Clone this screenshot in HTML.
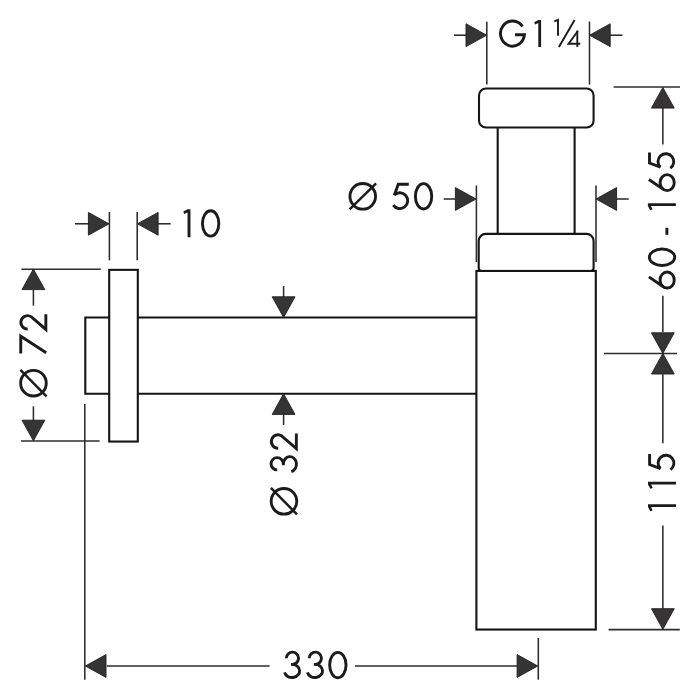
<!DOCTYPE html>
<html><head><meta charset="utf-8"><title>Drawing</title>
<style>html,body{margin:0;padding:0;background:#fff;}svg{display:block;}</style>
</head><body>
<svg width="700" height="700" viewBox="0 0 700 700">
<rect width="700" height="700" fill="#ffffff"/>
<g fill="none" stroke="#161414" stroke-width="2.1" stroke-linejoin="miter"><rect x="479" y="88.5" width="114.6" height="39" rx="7" ry="7"/><line x1="497.7" y1="127.5" x2="497.7" y2="233.85"/><line x1="574.6" y1="127.5" x2="574.6" y2="233.85"/><path d="M481.7,270.95 A3,3 0 0 1 478.7,267.95 V240.85 A7,7 0 0 1 485.7,233.85 H586.6 A7,7 0 0 1 593.6,240.85 V267.95 A3,3 0 0 1 590.6,270.95"/><rect x="476.4" y="270.95" width="119.4" height="358.6"/><line x1="137.8" y1="317.5" x2="476.4" y2="317.5"/><line x1="137.8" y1="393.8" x2="476.4" y2="393.8"/><rect x="109.2" y="269.85" width="28.6" height="171.7"/><path d="M109.2,317.5 H85.3 V393.8 H109.2"/></g><g fill="none" stroke="#2e2c2d" stroke-width="1.55"><line x1="454" y1="35.2" x2="466" y2="35.2"/><line x1="610" y1="35.2" x2="622.4" y2="35.2"/><line x1="486.8" y1="21.8" x2="486.8" y2="84.6"/><line x1="589.5" y1="21.5" x2="589.5" y2="84.6"/><line x1="613.6" y1="87" x2="680" y2="87"/><line x1="662.85" y1="107.8" x2="662.85" y2="144.4"/><line x1="662.85" y1="295.7" x2="662.85" y2="332.1"/><line x1="604" y1="353.4" x2="677" y2="353.4"/><line x1="662.85" y1="374.3" x2="662.85" y2="443.2"/><line x1="662.85" y1="525.5" x2="662.85" y2="608.5"/><line x1="608.6" y1="629.6" x2="679.8" y2="629.6"/><line x1="443.7" y1="199" x2="455.3" y2="199"/><line x1="616.8" y1="199" x2="628.7" y2="199"/><line x1="476.4" y1="185.5" x2="476.4" y2="262"/><line x1="596" y1="185.5" x2="596" y2="262"/><line x1="75" y1="223.8" x2="89" y2="223.8"/><line x1="158" y1="223.8" x2="170.6" y2="223.8"/><line x1="109.4" y1="212" x2="109.4" y2="260.3"/><line x1="137.2" y1="212" x2="137.2" y2="260.3"/><line x1="21.4" y1="269.2" x2="100.8" y2="269.2"/><line x1="21" y1="441" x2="99.6" y2="441"/><line x1="33.4" y1="290" x2="33.4" y2="305.7"/><line x1="33.4" y1="406.3" x2="33.4" y2="421"/><line x1="283.6" y1="286" x2="283.6" y2="298"/><line x1="283.6" y1="413.4" x2="283.6" y2="425"/><line x1="84.8" y1="404" x2="84.8" y2="679.7"/><line x1="538.3" y1="638" x2="538.3" y2="679.7"/><line x1="106.8" y1="666" x2="269.6" y2="666"/><line x1="355" y1="666" x2="517.1" y2="666"/></g><polygon points="486.60,35.20 466.00,23.80 466.00,46.60" fill="#363435" stroke="#1e1e1e" stroke-width="0.9" stroke-linejoin="miter"/><polygon points="589.60,35.20 610.20,23.80 610.20,46.60" fill="#363435" stroke="#1e1e1e" stroke-width="0.9" stroke-linejoin="miter"/><polygon points="662.85,87.50 651.45,108.10 674.25,108.10" fill="#363435" stroke="#1e1e1e" stroke-width="0.9" stroke-linejoin="miter"/><polygon points="662.85,353.40 651.45,332.80 674.25,332.80" fill="#363435" stroke="#1e1e1e" stroke-width="0.9" stroke-linejoin="miter"/><polygon points="662.85,353.40 651.45,374.00 674.25,374.00" fill="#363435" stroke="#1e1e1e" stroke-width="0.9" stroke-linejoin="miter"/><polygon points="662.85,629.30 651.45,608.70 674.25,608.70" fill="#363435" stroke="#1e1e1e" stroke-width="0.9" stroke-linejoin="miter"/><polygon points="476.00,199.00 455.40,187.60 455.40,210.40" fill="#363435" stroke="#1e1e1e" stroke-width="0.9" stroke-linejoin="miter"/><polygon points="596.00,199.00 616.60,187.60 616.60,210.40" fill="#363435" stroke="#1e1e1e" stroke-width="0.9" stroke-linejoin="miter"/><polygon points="109.00,223.80 88.40,212.40 88.40,235.20" fill="#363435" stroke="#1e1e1e" stroke-width="0.9" stroke-linejoin="miter"/><polygon points="137.50,223.80 158.10,212.40 158.10,235.20" fill="#363435" stroke="#1e1e1e" stroke-width="0.9" stroke-linejoin="miter"/><polygon points="33.40,269.00 22.00,289.60 44.80,289.60" fill="#363435" stroke="#1e1e1e" stroke-width="0.9" stroke-linejoin="miter"/><polygon points="33.40,440.80 22.00,420.20 44.80,420.20" fill="#363435" stroke="#1e1e1e" stroke-width="0.9" stroke-linejoin="miter"/><polygon points="283.60,317.40 272.20,296.80 295.00,296.80" fill="#363435" stroke="#1e1e1e" stroke-width="0.9" stroke-linejoin="miter"/><polygon points="283.60,393.80 272.20,414.40 295.00,414.40" fill="#363435" stroke="#1e1e1e" stroke-width="0.9" stroke-linejoin="miter"/><polygon points="85.40,666.00 106.00,654.60 106.00,677.40" fill="#363435" stroke="#1e1e1e" stroke-width="0.9" stroke-linejoin="miter"/><polygon points="537.70,666.00 517.10,654.60 517.10,677.40" fill="#363435" stroke="#1e1e1e" stroke-width="0.9" stroke-linejoin="miter"/><g fill="none" stroke="#1c1b1c" stroke-width="2.9" stroke-linejoin="miter"><path d="M515,34.7 H524.45 A12,12.55 0 1 1 522.45,26.58"/><g transform="translate(534.2,20) scale(0.964)"><path d="M4.25,0 H7.15 V28 H4.25 V3.1 L0.9,4.7 L0,2.3 Z" fill="#1c1b1c" stroke="none"/></g><g stroke-width="1.9"><path d="M554.3,21.4 L558,19.9 V35.7"/><path d="M558.9,46.9 L574.6,20"/><path d="M577.3,46.9 V30.6"/><path d="M577.9,31.0 L568.6,43.7 H580.3"/></g><g transform="translate(183.3,209.3)"><path d="M4.25,0 H7.15 V28 H4.25 V3.1 L0.9,4.7 L0,2.3 Z" fill="#1c1b1c" stroke="none"/></g><g transform="translate(201.0,209.3)"><ellipse cx="9.65" cy="14.15" rx="8.2" ry="12.7"/></g><g transform="translate(348.4,182.2)"><circle cx="14.35" cy="14.15" r="12.8"/><path d="M1.2,27.2 L27.7,1.1" stroke-width="2.45"/></g><g transform="translate(413.9,182.2)"><ellipse cx="9.65" cy="14.15" rx="8.2" ry="12.7"/></g><g transform="translate(391.4,182.7)"><path d="M17.4,1.6 H6.9 L2.9,12.6"/><path d="M2.87,12.36 A7.9,7.9 0 1 1 1.85,22.42"/></g><g transform="translate(282.5,650.9)"><path d="M3.81,7.4 A6.12,6.12 0 1 1 9.93,13.5"/><path d="M8.4,13.5 H9.55 A7.6,6.57 0 1 1 2.1,21.5"/></g><g transform="translate(305.4,650.9)"><path d="M3.81,7.4 A6.12,6.12 0 1 1 9.93,13.5"/><path d="M8.4,13.5 H9.55 A7.6,6.57 0 1 1 2.1,21.5"/></g><g transform="translate(328.2,650.9)"><ellipse cx="9.65" cy="14.15" rx="8.2" ry="12.7"/></g><g transform="translate(269.8,515.3) rotate(-90)"><g transform="translate(-0.35,0)"><circle cx="14.35" cy="14.15" r="12.8"/><path d="M1.2,27.2 L27.7,1.1" stroke-width="2.45"/></g><g transform="translate(41.6,0)"><path d="M3.81,7.4 A6.12,6.12 0 1 1 9.93,13.5"/><path d="M8.4,13.5 H9.55 A7.6,6.57 0 1 1 2.1,21.5"/></g><g transform="translate(64.8,0)"><path d="M2.25,8.4 A6.7,6.7 0 1 1 14.44,12.09 L1.9,26.55 H17.0"/></g></g><g transform="translate(19.3,396.5) rotate(-90)"><g transform="translate(-1.0,0)"><circle cx="14.35" cy="14.15" r="12.8"/><path d="M1.2,27.2 L27.7,1.1" stroke-width="2.45"/></g><g transform="translate(42.7,0)"><path d="M0.2,1.45 H17.6 L1.0,26.9"/></g><g transform="translate(65.15,0)"><path d="M2.25,8.4 A6.7,6.7 0 1 1 14.44,12.09 L1.9,26.55 H17.0"/></g></g><g transform="translate(647.9,289.4) rotate(-90)"><g transform="translate(0,0)"><path d="M12.5,1.0 L2.6,15.45"/><ellipse cx="9.35" cy="19.25" rx="8.0" ry="7.1"/></g><g transform="translate(22.5,0)"><ellipse cx="9.65" cy="14.15" rx="8.2" ry="12.7"/></g><g transform="translate(54.6,0)"><path d="M0,19 H7"/></g><g transform="translate(79.1,0)"><path d="M4.25,0 H7.15 V28 H4.25 V3.1 L0.9,4.7 L0,2.3 Z" fill="#1c1b1c" stroke="none"/></g><g transform="translate(97.4,0)"><path d="M12.5,1.0 L2.6,15.45"/><ellipse cx="9.35" cy="19.25" rx="8.0" ry="7.1"/></g><g transform="translate(119.4,0)"><path d="M17.4,1.6 H6.9 L2.9,12.6"/><path d="M2.87,12.36 A7.9,7.9 0 1 1 1.85,22.42"/></g></g><g transform="translate(648,511.3) rotate(-90)"><g transform="translate(0,0)"><path d="M4.25,0 H7.15 V28 H4.25 V3.1 L0.9,4.7 L0,2.3 Z" fill="#1c1b1c" stroke="none"/></g><g transform="translate(22.5,0)"><path d="M4.25,0 H7.15 V28 H4.25 V3.1 L0.9,4.7 L0,2.3 Z" fill="#1c1b1c" stroke="none"/></g><g transform="translate(39.8,0)"><path d="M17.4,1.6 H6.9 L2.9,12.6"/><path d="M2.87,12.36 A7.9,7.9 0 1 1 1.85,22.42"/></g></g></g>
</svg>
</body></html>
